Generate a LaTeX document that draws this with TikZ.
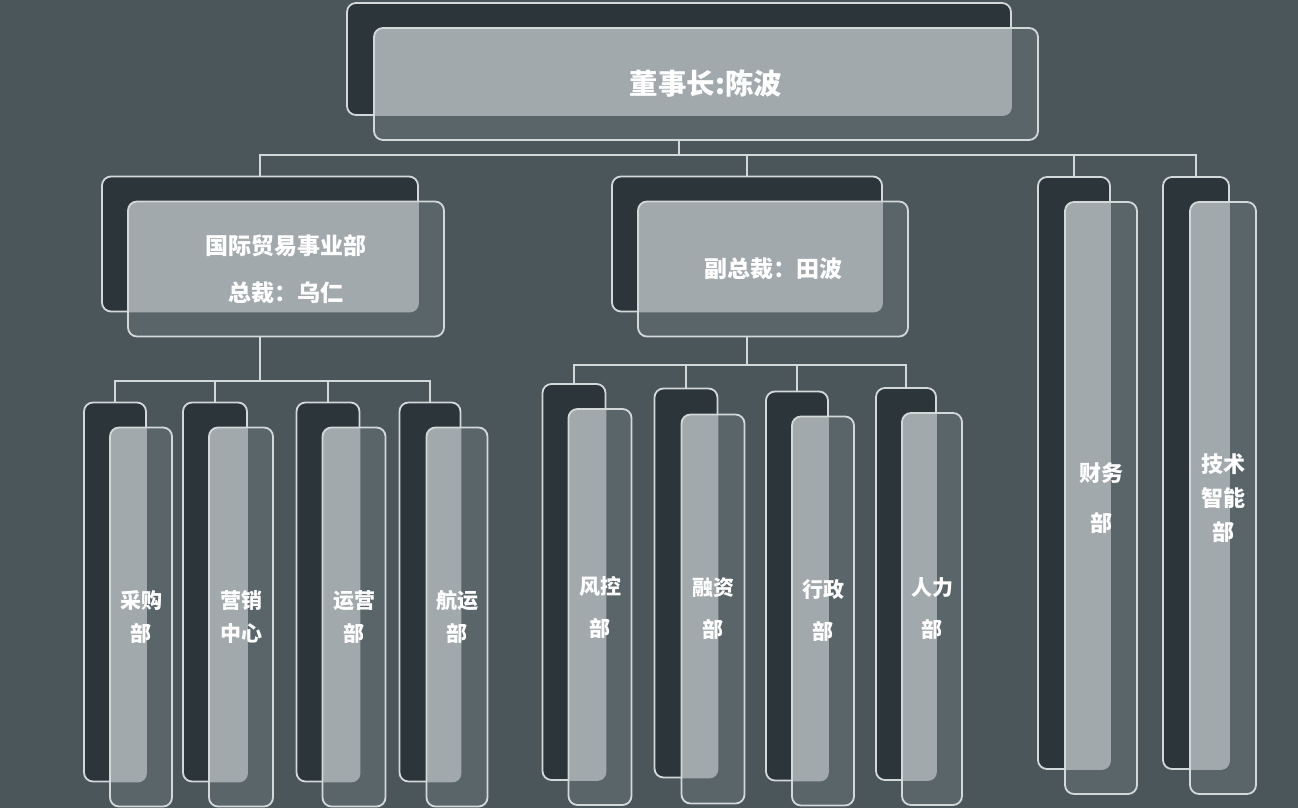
\documentclass[tikz,border=0pt]{standalone}
\usepackage{fontspec}
\newfontfamily\cjk{Noto Sans CJK SC}
\usepackage{tikz}
\usetikzlibrary{positioning}
\definecolor{slate}{HTML}{4B565B}
\definecolor{deep}{HTML}{2C3539}
\definecolor{mist}{HTML}{5A656A}
\definecolor{pale}{HTML}{A2A9AC}
\definecolor{edge}{HTML}{D3D8D9}
\tikzset{backbox/.style={draw=edge, fill=deep, line width=1.8pt,
    rounded corners=9pt, inner sep=0pt},
  frontbox/.style={draw=edge, fill=mist, line width=1.8pt,
    rounded corners=9pt, inner sep=0pt, text=white, align=center,
    font=\cjk\bfseries\fontsize{21}{33}\selectfont},
  lit/.style={path picture={\fill[pale, rounded corners=9pt]
      (#1.south west) rectangle (#1.north east);}},
  dims/.style 2 args={minimum width=#1, minimum height=#2},
  midtext/.style={font=\cjk\bfseries\fontsize{21}{42}\selectfont},
  link/.style={draw=edge, line width=1.6pt}}

\begin{document}
\begin{tikzpicture}[x=1pt, y=-1pt]
  \fill[slate] (0,0) rectangle (1298,808);
  \useasboundingbox (0,0) rectangle (1298,808);
  % chairman
  \node[backbox, dims={664}{112}] (topb) at (679,59) {};
  \node[frontbox, dims={664}{112}, lit=topb,
    font=\cjk\bfseries\fontsize{28.5}{34}\selectfont] (top)
    at ([shift={(27,25)}]topb) {董事长:陈波};
  % second level
  \node[backbox, dims={316}{135}] (intlb) at (260,244) {};
  \node[frontbox, dims={316}{135}, lit=intlb,
    font=\cjk\bfseries\fontsize{23}{47}\selectfont] (intl)
    at ([shift={(26,25)}]intlb) {国际贸易事业部\\总裁：乌仁};
  \node[backbox, dims={270}{135}] (vpb) at (747,244) {};
  \node[frontbox, dims={270}{135}, lit=vpb,
    font=\cjk\bfseries\fontsize{23}{30}\selectfont] (vp)
    at ([shift={(26,25)}]vpb) {副总裁：田波};
  \node[backbox, dims={72}{592}] (finb) at (1074,473) {};
  \node[frontbox, dims={72}{592}, lit=finb,
    font=\cjk\bfseries\fontsize{22}{50}\selectfont] (fin)
    at ([shift={(27,25)}]finb) {财务\\部};
  \node[backbox, dims={66}{592}] (techb) at (1196,473) {};
  \node[frontbox, dims={66}{592}, lit=techb,
    font=\cjk\bfseries\fontsize{22}{34}\selectfont] (tech)
    at ([shift={(27,25)}]techb) {技术\\智能\\部};
  % departments under the trade division
  \node[backbox, dims={62}{379}] (cgb) at (115,592) {};
  \node[frontbox, dims={62}{379}, lit=cgb] (cg)
    at ([shift={(26,25)}]cgb) {采购\\部};
  \node[backbox, dims={64}{379}] (yxb) at (215,592) {};
  \node[frontbox, dims={64}{379}, lit=yxb] (yx)
    at ([shift={(26,25)}]yxb) {营销\\中心};
  \node[backbox, dims={63}{379}] (yyb) at (328,592) {};
  \node[frontbox, dims={63}{379}, lit=yyb] (yy)
    at ([shift={(26,25)}]yyb) {运营\\部};
  \node[backbox, dims={61}{379}] (hyb) at (430,592) {};
  \node[frontbox, dims={61}{379}, lit=hyb] (hy)
    at ([shift={(27,25)}]hyb) {航运\\部};
  % departments under the vice president
  \node[backbox, dims={63}{396}] (fkb) at (574,582) {};
  \node[frontbox, dims={63}{396}, lit=fkb, midtext] (fk)
    at ([shift={(26,25)}]fkb) {风控\\部};
  \node[backbox, dims={63}{389}] (rzb) at (686,583) {};
  \node[frontbox, dims={63}{389}, lit=rzb, midtext] (rz)
    at ([shift={(27,26)}]rzb) {融资\\部};
  \node[backbox, dims={62}{389}] (xzb) at (797,586) {};
  \node[frontbox, dims={62}{389}, lit=xzb, midtext] (xz)
    at ([shift={(26,25)}]xzb) {行政\\部};
  \node[backbox, dims={60}{392}] (rlb) at (906,584) {};
  \node[frontbox, dims={60}{392}, lit=rlb, midtext] (rl)
    at ([shift={(26,25)}]rlb) {人力\\部};
  % connectors
  \coordinate (bus) at (0,155);
  \coordinate (busl) at (0,381);
  \coordinate (busm) at (0,365);
  \draw[link] (topb |- top.south) -- (topb |- bus);
  \draw[link] (intlb.north) |- (techb.north |- bus) -- (techb.north);
  \foreach \b in {vpb, finb}
    \draw[link] (\b.north) -- (\b.north |- bus);
  \draw[link] (intlb |- intl.south) -- (intlb |- busl);
  \draw[link] (cgb.north) |- (hyb.north |- busl) -- (hyb.north);
  \foreach \b in {yxb, yyb}
    \draw[link] (\b.north) -- (\b.north |- busl);
  \draw[link] (vpb |- vp.south) -- (vpb |- busm);
  \draw[link] (fkb.north) |- (rlb.north |- busm) -- (rlb.north);
  \foreach \b in {rzb, xzb}
    \draw[link] (\b.north) -- (\b.north |- busm);
\end{tikzpicture}
\end{document}
